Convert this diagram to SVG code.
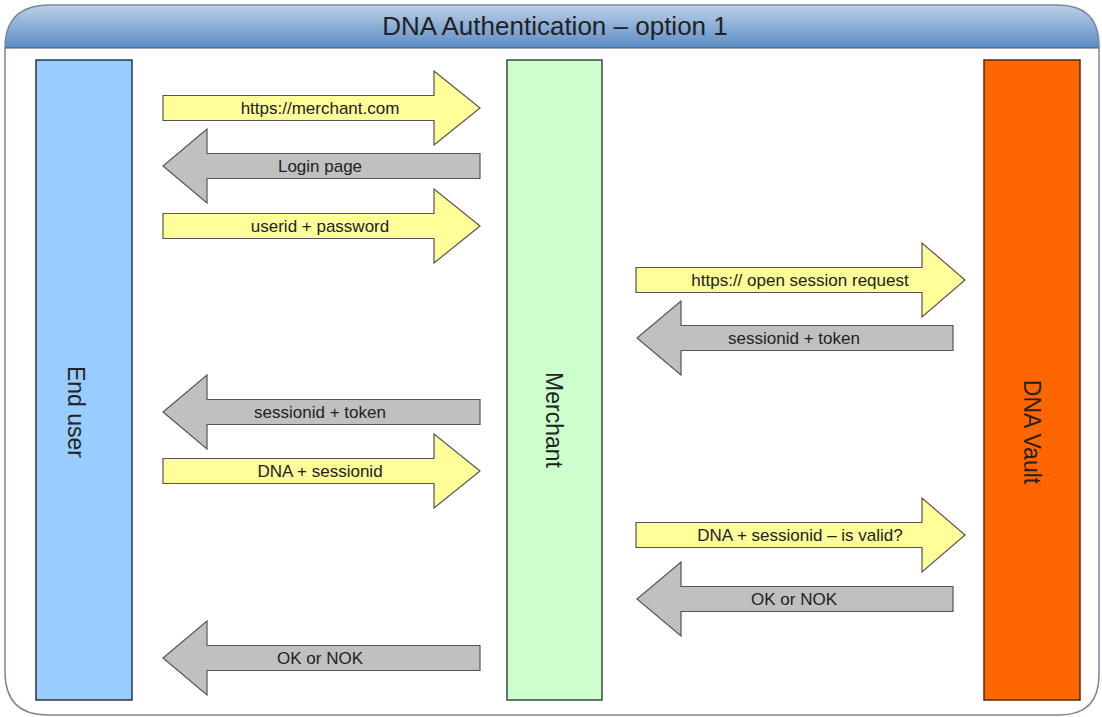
<svg xmlns="http://www.w3.org/2000/svg" width="1102" height="717" viewBox="0 0 1102 717">
  <defs>
    <linearGradient id="hdr" x1="0" y1="0" x2="0" y2="1">
      <stop offset="0" stop-color="#c9d8ec"/>
      <stop offset="1" stop-color="#5a8cc4"/>
    </linearGradient>
    <clipPath id="frameClip">
      <path d="M5,48 Q5,5 50,5 L1057,5 Q1099,5 1099,45 L1099,675 Q1099,715 1059,715 L48,715 Q5,715 5,672 Z"/>
    </clipPath>
    <style>
      .lbl { font-family: "Liberation Sans", Arial, sans-serif; fill: #222; }
      .arr { font-size: 17px; text-anchor: middle; }
      .col { font-size: 23px; text-anchor: middle; }
      .fwd { fill: #ffff99; stroke: #555; stroke-width: 1.2; }
      .back { fill: #c0c0c0; stroke: #555; stroke-width: 1.2; }
    </style>
  </defs>

  <!-- frame with header band -->
  <g id="frame">
    <path d="M5,48 Q5,5 50,5 L1057,5 Q1099,5 1099,45 L1099,675 Q1099,715 1059,715 L48,715 Q5,715 5,672 Z" fill="#ffffff"/>
    <rect x="0" y="0" width="1102" height="48" fill="url(#hdr)" clip-path="url(#frameClip)"/>
    <line x1="5" y1="48" x2="1099" y2="48" stroke="#3d5a80" stroke-width="1.2"/>
    <path d="M5,48 Q5,5 50,5 L1057,5 Q1099,5 1099,45 L1099,675 Q1099,715 1059,715 L48,715 Q5,715 5,672 Z" fill="none" stroke="#7b869c" stroke-width="1.5"/>
    <text class="lbl" x="555" y="35" font-size="26" text-anchor="middle">DNA Authentication – option 1</text>
  </g>

  <!-- participants -->
  <g id="end-user">
    <rect x="36" y="60" width="96" height="640" fill="#99ccff" stroke="#2b3440" stroke-width="1.5"/>
    <text class="lbl col" x="68" y="412" transform="rotate(90 68 412)">End user</text>
  </g>
  <g id="merchant">
    <rect x="507" y="60" width="95" height="640" fill="#ccffcc" stroke="#3a4a3a" stroke-width="1.5"/>
    <text class="lbl col" x="546" y="420" transform="rotate(90 546 420)">Merchant</text>
  </g>
  <g id="dna-vault">
    <rect x="984" y="60" width="96" height="640" fill="#ff6600" stroke="#5a2a14" stroke-width="1.5"/>
    <text class="lbl col" x="1024" y="432" transform="rotate(90 1024 432)" fill="#2a1208">DNA Vault</text>
  </g>

  <!-- message arrows -->
  <g id="connectors">
    <!-- end user -> merchant -->
    <g id="msg-1">
      <polygon class="fwd" points="163,95.5 434,95.5 434,71 480,108 434,145 434,120.5 163,120.5"/>
      <text class="lbl arr" x="320" y="114">https://merchant.com</text>
    </g>
    <g id="msg-2">
      <polygon class="back" points="480,153.5 207,153.5 207,129 163,166 207,203 207,178.5 480,178.5"/>
      <text class="lbl arr" x="320" y="172">Login page</text>
    </g>
    <g id="msg-3">
      <polygon class="fwd" points="163,213.5 434,213.5 434,189 480,226 434,263 434,238.5 163,238.5"/>
      <text class="lbl arr" x="320" y="232">userid + password</text>
    </g>
    <!-- merchant -> vault -->
    <g id="msg-4">
      <polygon class="fwd" points="636,267.5 922,267.5 922,243 965,280 922,317 922,292.5 636,292.5"/>
      <text class="lbl arr" x="800" y="286">https:// open session request</text>
    </g>
    <g id="msg-5">
      <polygon class="back" points="953,325.5 681,325.5 681,301 637,338 681,375 681,350.5 953,350.5"/>
      <text class="lbl arr" x="794" y="344">sessionid + token</text>
    </g>
    <!-- merchant -> end user -->
    <g id="msg-6">
      <polygon class="back" points="480,399.5 207,399.5 207,375 163,412 207,449 207,424.5 480,424.5"/>
      <text class="lbl arr" x="320" y="418">sessionid + token</text>
    </g>
    <g id="msg-7">
      <polygon class="fwd" points="163,458.5 434,458.5 434,434 480,471 434,508 434,483.5 163,483.5"/>
      <text class="lbl arr" x="320" y="477">DNA + sessionid</text>
    </g>
    <!-- merchant -> vault validation -->
    <g id="msg-8">
      <polygon class="fwd" points="636,522.5 922,522.5 922,498 965,535 922,572 922,547.5 636,547.5"/>
      <text class="lbl arr" x="800" y="541">DNA + sessionid – is valid?</text>
    </g>
    <g id="msg-9">
      <polygon class="back" points="953,586.5 681,586.5 681,562 637,599 681,636 681,611.5 953,611.5"/>
      <text class="lbl arr" x="794" y="605">OK or NOK</text>
    </g>
    <g id="msg-10">
      <polygon class="back" points="480,645.5 207,645.5 207,621 163,658 207,695 207,670.5 480,670.5"/>
      <text class="lbl arr" x="320" y="664">OK or NOK</text>
    </g>
  </g>
</svg>
